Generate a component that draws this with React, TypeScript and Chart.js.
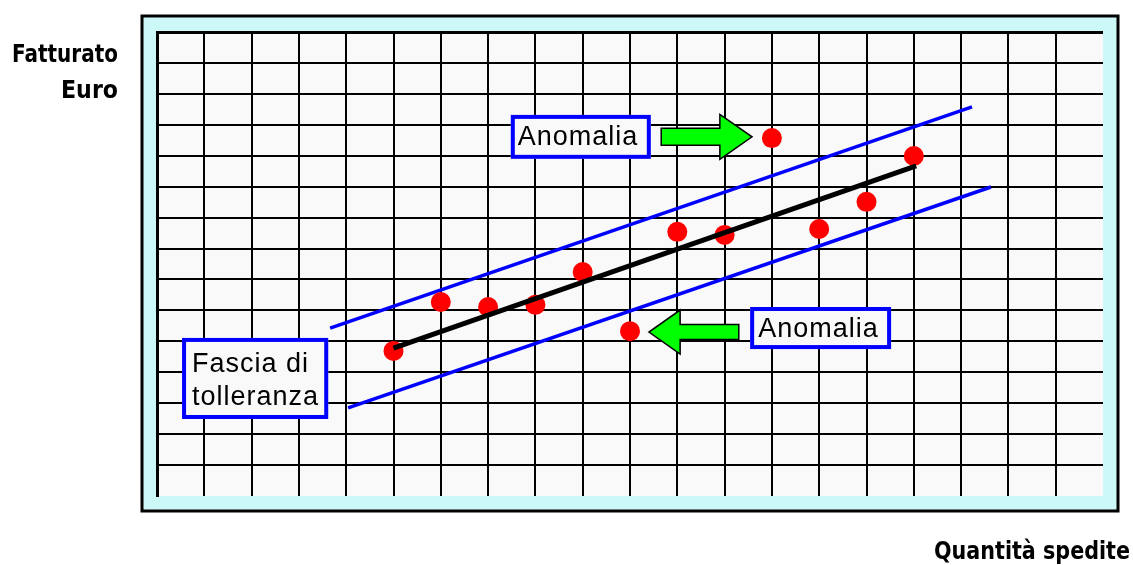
import { useEffect, useRef } from "react";
import { Chart, registerables } from "chart.js";

Chart.register(...registerables);

// ---- data (grid units) ----
const pointX = [5, 6, 7, 8, 9, 10, 11, 12, 13, 14, 15, 16];
const pointY = [4.69, 6.27, 6.11, 6.18, 7.24, 5.33, 8.54, 8.44, 11.57, 8.63, 9.51, 10.99];
const trendX = [5.0, 16.05];
const trendY = [4.78, 10.67];
const upperBandX = [3.66, 17.23];
const upperBandY = [5.43, 12.58];
const lowerBandX = [4.04, 17.63];
const lowerBandY = [2.85, 9.99];

const xMin = 0;
const xMax = 20;
const yMin = 0;
const yMax = 15;

const yTitleLines = ["Fatturato", "Euro"];
const xTitle = "Quantità spedite";
const anomalyLabel = "Anomalia";
const bandLabelLines = ["Fascia di", "tolleranza"];

// ---- annotation layout (data units) ----
const annotations = {
  upperBox: { x0: 7.48, x1: 10.44, y0: 12.32, y1: 10.9 },
  upperArrow: { tail: 10.66, headBase: 11.9, tip: 12.58, y: 11.61, body: 8.5, head: 22.5 },
  lowerBox: { x0: 12.54, x1: 15.52, y0: 6.11, y1: 4.75 },
  lowerArrow: { tail: 12.3, headBase: 11.06, tip: 10.4, y: 5.3, body: 7.5, head: 22 },
  bandBox: { x0: 0.53, x1: 3.62, y0: 5.11, y1: 2.49 },
};

const toPts = (xs: number[], ys: number[]) => xs.map((x, i) => ({ x, y: ys[i] }));

const decorPlugin = {
  id: "decor",
  beforeDraw(chart: any) {
    const { ctx, chartArea } = chart;
    const { left, top, right, bottom } = chartArea;
    ctx.save();
    ctx.fillStyle = "#ffffff";
    ctx.fillRect(0, 0, chart.width, chart.height);
    // cyan frame
    const fx0 = left - 15, fy0 = top - 16, fx1 = right + 15, fy1 = bottom + 15;
    ctx.fillStyle = "#ccf8f8";
    ctx.fillRect(fx0, fy0, fx1 - fx0, fy1 - fy0);
    ctx.lineWidth = 3;
    ctx.strokeStyle = "#000000";
    ctx.strokeRect(fx0, fy0, fx1 - fx0, fy1 - fy0);
    // plot area
    ctx.fillStyle = "#f9f9f9";
    ctx.fillRect(left, top, right - left, bottom - top);
    ctx.restore();
  },
  afterDraw(chart: any) {
    const { ctx, chartArea } = chart;
    const xs = chart.scales.x;
    const ys = chart.scales.y;
    const px = (v: number) => xs.getPixelForValue(v);
    const py = (v: number) => ys.getPixelForValue(v);

    const drawBox = (b: any) => {
      const x0 = px(b.x0), x1 = px(b.x1), y0 = py(b.y0), y1 = py(b.y1);
      ctx.fillStyle = "#f9f9f9";
      ctx.fillRect(x0, y0, x1 - x0, y1 - y0);
      ctx.lineWidth = 4;
      ctx.strokeStyle = "#0000ff";
      ctx.strokeRect(x0 + 2, y0 + 2, x1 - x0 - 4, y1 - y0 - 4);
      return { x0, x1, y0, y1 };
    };
    const drawArrow = (a: any) => {
      const t = px(a.tail), h = px(a.headBase), p = px(a.tip), c = py(a.y);
      ctx.beginPath();
      ctx.moveTo(t, c - a.body);
      ctx.lineTo(h, c - a.body);
      ctx.lineTo(h, c - a.head);
      ctx.lineTo(p, c);
      ctx.lineTo(h, c + a.head);
      ctx.lineTo(h, c + a.body);
      ctx.lineTo(t, c + a.body);
      ctx.closePath();
      ctx.fillStyle = "#00ff00";
      ctx.fill();
      ctx.lineWidth = 1.5;
      ctx.strokeStyle = "#000000";
      ctx.stroke();
    };

    ctx.save();
    ctx.textBaseline = "alphabetic";
    ctx.fillStyle = "#000000";

    // annotation boxes + text
    ctx.font = "27px 'Liberation Sans', Arial, sans-serif";
    (ctx as any).letterSpacing = "1px";
    ctx.textAlign = "left";
    let b = drawBox(annotations.upperBox);
    ctx.fillStyle = "#000000";
    ctx.fillText(anomalyLabel, b.x0 + 7, b.y1 - 14);
    b = drawBox(annotations.lowerBox);
    ctx.fillStyle = "#000000";
    ctx.fillText(anomalyLabel, b.x0 + 8, b.y1 - 12);
    b = drawBox(annotations.bandBox);
    ctx.fillStyle = "#000000";
    ctx.fillText(bandLabelLines[0], b.x0 + 10, b.y1 - 47);
    ctx.fillText(bandLabelLines[1], b.x0 + 10, b.y1 - 14);

    drawArrow(annotations.upperArrow);
    drawArrow(annotations.lowerArrow);

    // axis titles (heavy, condensed)
    (ctx as any).letterSpacing = "0px";
    ctx.fillStyle = "#000000";
    ctx.font = "bold 24px 'DejaVu Sans', 'Liberation Sans', sans-serif";
    ctx.textAlign = "right";
    ctx.fillText(yTitleLines[0], chartArea.left - 39, chartArea.top + 30, 106);
    ctx.fillText(yTitleLines[1], chartArea.left - 39, chartArea.top + 66, 57);
    ctx.fillText(xTitle, chartArea.right + 27, chartArea.bottom + 63, 196);
    ctx.restore();
  },
};

export default function App() {
  const ref = useRef<HTMLCanvasElement | null>(null);
  useEffect(() => {
    if (!ref.current) return;
    const chart = new Chart(ref.current, {
      type: "scatter",
      data: {
        datasets: [
          {
            label: "trend",
            data: toPts(trendX, trendY),
            showLine: true,
            borderColor: "#000000",
            borderWidth: 5,
            pointRadius: 0,
            order: 0,
          },
          {
            label: "punti",
            data: toPts(pointX, pointY),
            backgroundColor: "#ff0000",
            borderWidth: 0,
            pointRadius: 10,
            order: 1,
          },
          {
            label: "upper",
            data: toPts(upperBandX, upperBandY),
            showLine: true,
            borderColor: "#0000ff",
            borderWidth: 3.5,
            pointRadius: 0,
            order: 2,
          },
          {
            label: "lower",
            data: toPts(lowerBandX, lowerBandY),
            showLine: true,
            borderColor: "#0000ff",
            borderWidth: 3.5,
            pointRadius: 0,
            order: 2,
          },
        ],
      },
      options: {
        animation: false,
        responsive: false,
        maintainAspectRatio: false,
        layout: { padding: { left: 157, top: 32, right: 30, bottom: 69 } },
        plugins: { legend: { display: false }, tooltip: { enabled: false } },
        scales: {
          x: {
            type: "linear",
            min: xMin,
            max: xMax,
            ticks: { display: false, stepSize: 1 },
            grid: {
              drawTicks: false,
              color: (c: any) => (c.tick && c.tick.value === xMax ? "rgba(0,0,0,0)" : "#000000"),
              lineWidth: (c: any) => (c.tick && c.tick.value === xMin ? 3 : 2),
            },
            border: { display: false },
            afterFit: (s: any) => {
              s.height = 0;
            },
          },
          y: {
            type: "linear",
            min: yMin,
            max: yMax,
            ticks: { display: false, stepSize: 1 },
            grid: {
              drawTicks: false,
              color: (c: any) => (c.tick && c.tick.value === yMin ? "rgba(0,0,0,0)" : "#000000"),
              lineWidth: (c: any) => (c.tick && c.tick.value === yMax ? 3 : 2),
            },
            border: { display: true, color: "#000000", width: 3 },
            afterFit: (s: any) => {
              s.width = 0;
            },
          },
        },
      },
      plugins: [decorPlugin],
    });
    return () => chart.destroy();
  }, []);

  return (
    <div style={{ position: "fixed", left: 0, top: 0, width: 1133, height: 565, background: "#ffffff" }}>
      <canvas ref={ref} width={1133} height={565} style={{ display: "block", width: 1133, height: 565 }} />
    </div>
  );
}
